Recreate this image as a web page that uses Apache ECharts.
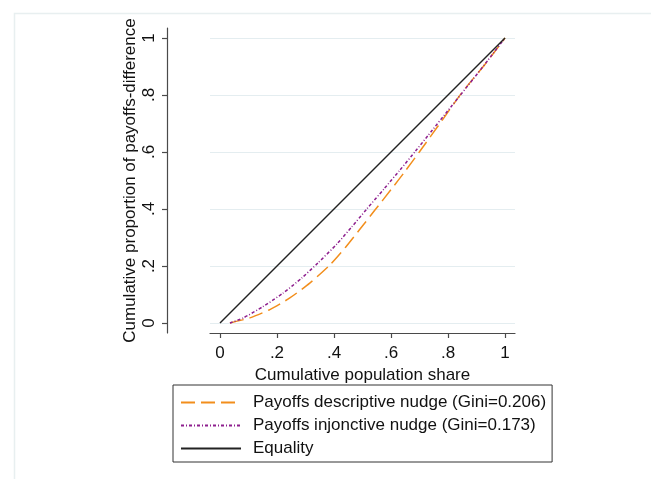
<!DOCTYPE html>
<html>
<head>
<meta charset="utf-8">
<script src="https://cdn.jsdelivr.net/npm/echarts@6/dist/echarts.min.js"></script>
<style>html,body{margin:0;padding:0;background:#fff}#c{width:651px;height:479px}</style>
</head>
<body>
<div id="c"></div>
<script>
// Data
const tickValues = [0, 0.2, 0.4, 0.6, 0.8, 1];
const tickLabels = ['0', '.2', '.4', '.6', '.8', '1'];
const descriptiveX = [0.035, 0.105, 0.175, 0.245, 0.315, 0.385, 0.44, 0.49, 0.545, 0.60, 0.65, 0.70, 0.78, 0.85, 0.93, 1];
const descriptiveY = [0, 0.018, 0.047, 0.088, 0.14, 0.203, 0.265, 0.328, 0.398, 0.468, 0.533, 0.601, 0.712, 0.81, 0.908, 1];
const injunctiveX = [0.035, 0.082, 0.15, 0.22, 0.287, 0.345, 0.41, 0.462, 0.515, 0.575, 0.63, 0.685, 0.73, 0.81, 0.89, 0.94, 1];
const injunctiveY = [0, 0.018, 0.057, 0.104, 0.158, 0.212, 0.277, 0.337, 0.40, 0.47, 0.535, 0.602, 0.658, 0.758, 0.858, 0.922, 1];
const equalityX = [0, 1];
const equalityY = [0, 1];
const seriesNames = ['Payoffs descriptive nudge (Gini=0.206)', 'Payoffs injonctive nudge (Gini=0.173)', 'Equality'];

const zip = (xs, ys) => xs.map((x, i) => [x, ys[i]]);
const labelFmt = v => { const i = tickValues.findIndex(t => Math.abs(t - v) < 1e-9); return i >= 0 ? tickLabels[i] : ''; };
const FONT = 'Liberation Sans, Arial, sans-serif';
const axisCol = '#4a4a4a';

const chart = echarts.init(document.getElementById('c'), null, {renderer: 'canvas'});
chart.setOption({
  animation: false,
  backgroundColor: '#fff',
  graphic: [{
    type: 'rect', left: 12, top: 11, shape: {width: 700, height: 520},
    style: {fill: 'none', stroke: '#e8eff0', lineWidth: 1.5}, silent: true
  }],
  grid: {left: 210, right: 136, top: 28, bottom: 146, containLabel: false},
  xAxis: {
    type: 'value', min: -0.035, max: 1.035,
    name: 'Cumulative population share', nameLocation: 'middle', nameGap: 29,
    nameTextStyle: {fontFamily: FONT, fontSize: 17, color: '#111'},
    axisLine: {show: true, onZero: false, lineStyle: {color: axisCol, width: 1.2}},
    axisTick: {show: true, length: 5, lineStyle: {color: axisCol, width: 1.2}, customValues: tickValues},
    axisLabel: {fontFamily: FONT, fontSize: 17, color: '#111', margin: 12, customValues: tickValues, formatter: labelFmt},
    splitLine: {show: false}
  },
  yAxis: {
    type: 'value', min: -0.035, max: 1.035, offset: 43,
    name: 'Cumulative proportion of payoffs-difference', nameLocation: 'middle', nameGap: 28,
    nameTextStyle: {fontFamily: FONT, fontSize: 17, color: '#111'},
    axisLine: {show: true, onZero: false, lineStyle: {color: axisCol, width: 1.2}},
    axisTick: {show: true, length: 5, lineStyle: {color: axisCol, width: 1.2}, customValues: tickValues},
    axisLabel: {fontFamily: FONT, fontSize: 17, color: '#111', margin: 9, rotate: 90, customValues: tickValues, formatter: labelFmt},
    splitLine: {show: true, lineStyle: {color: '#e4edf0', width: 1.2}}
  },
  legend: {
    orient: 'vertical', left: 173, top: 385,
    padding: [8, 6, 4, 7], itemGap: 4, itemWidth: 60, itemHeight: 14,
    borderColor: '#333', borderWidth: 1,
    itemStyle: {opacity: 0},
    textStyle: {fontFamily: FONT, fontSize: 17, color: '#111', padding: [0, 0, 0, 7], lineHeight: 19},
    data: seriesNames
  },
  series: [
    {name: seriesNames[0], type: 'line', data: zip(descriptiveX, descriptiveY), smooth: 0.2, symbol: 'none',
     lineStyle: {color: '#f28e1c', width: 1.5, type: [14, 6]}, itemStyle: {color: '#f28e1c'}},
    {name: seriesNames[1], type: 'line', data: zip(injunctiveX, injunctiveY), smooth: 0.2, symbol: 'none',
     lineStyle: {color: '#8e1f8e', width: 1.5, type: [3, 2, 1, 2]}, itemStyle: {color: '#8e1f8e'}},
    {name: seriesNames[2], type: 'line', data: zip(equalityX, equalityY), symbol: 'none',
     lineStyle: {color: '#222', width: 1.4}, itemStyle: {color: '#222'}}
  ]
});
</script>
</body>
</html>
